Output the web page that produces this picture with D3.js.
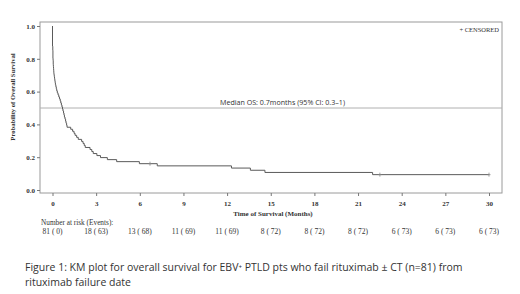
<!DOCTYPE html>
<html><head><meta charset="utf-8">
<script src="https://cdn.jsdelivr.net/npm/d3@7"></script>
<style>body{margin:0;background:#fff}svg{display:block}</style>
</head><body>
<script>
// ---- data ----
const eventTimes = [0,0,0,0,0,0,0,0,0,0,0.02,0.02,0.03,0.03,0.03,0.03,
  0.04,0.05,0.05,0.06,0.07,0.08,0.09,0.10,
  0.12,0.14,0.16,0.18,0.20,0.23,0.26,0.29,
  0.33,0.38,0.43,0.48,
  0.53,0.57,0.61,0.65,0.69,
  0.72,0.76,0.79,0.82,0.86,
  0.90,0.93,0.97,
  1.00,1.25,1.38,1.48,1.55,1.66,1.77,2.00,2.10,2.18,2.25,2.58,2.70,2.80,
  3.05,3.30,3.77,4.41,5.97,7.2,12.3,13.6,14.6,22.0];
const censorTimes = [6.7,22.5,30,30,30,30,30,30];
const riskTimes = [0,3,6,9,12,15,18,21,24,27,30];
const atRisk =    [81,18,13,11,11,8,8,8,6,6,6];
const riskEvents =[0,63,68,69,69,72,72,72,73,73,73];
const yTicks = [0,0.2,0.4,0.6,0.8,1.0];
const medianLabel = "Median OS: 0.7months (95% CI: 0.3\u20131)";
const medianValue = 0.5;
const captionLines = ["Figure 1: KM plot for overall survival for EBV\u207A PTLD pts who fail rituximab \u00B1 CT (n=81) from",
  "rituximab failure date"];

const W=520,H=294;
const svg=d3.select("body").append("svg").attr("width",W).attr("height",H);
const x=d3.scaleLinear().domain([0,30]).range([52.5,489]);
const y=d3.scaleLinear().domain([0,1]).range([190,26]);
const frame={l:40,t:22,r:502,b:193};
const serif="'Liberation Serif','DejaVu Serif',serif";
const sans="'Open Sans','Liberation Sans',sans-serif";

// KM estimate
const recs=eventTimes.map(t=>({t,e:1})).concat(censorTimes.map(t=>({t,e:0})));
const times=Array.from(new Set(recs.map(r=>r.t))).sort((a,b)=>a-b);
let n=recs.length,S=1;const pts=[[0,1]];const cens=[];
for(const t of times){
  const d=recs.filter(r=>r.t===t&&r.e===1).length;
  const c=recs.filter(r=>r.t===t&&r.e===0).length;
  if(d>0){pts.push([t,S]);S=S*(n-d)/n;pts.push([t,S]);}
  if(c>0)cens.push([t,S]);
  n-=d+c;
}
pts.push([30,S]);

// frame
svg.append("rect").attr("x",frame.l).attr("y",frame.t).attr("width",frame.r-frame.l).attr("height",frame.b-frame.t)
  .attr("fill","none").attr("stroke","#9a9a9a").attr("stroke-width",1);

// median line
svg.append("line").attr("x1",frame.l).attr("x2",frame.r).attr("y1",y(medianValue)).attr("y2",y(medianValue))
  .attr("stroke","#b0b0b0").attr("stroke-width",1);
const med=svg.append("text").attr("x",220).attr("y",y(medianValue)-3.5).attr("font-family",sans).attr("font-size",7.6)
  .attr("fill","#333").text(medianLabel);
med.attr("font-size",7.6*125/med.node().getComputedTextLength());

// axes
const ya=svg.append("g").attr("transform",`translate(${frame.l},0)`)
  .call(d3.axisLeft(y).tickValues(yTicks).tickFormat(d3.format(".1f")).tickSize(3).tickPadding(2));
const xa=svg.append("g").attr("transform",`translate(0,${frame.b})`)
  .call(d3.axisBottom(x).tickValues(riskTimes).tickFormat(d3.format("d")).tickSize(3).tickPadding(5));
[ya,xa].forEach(g=>{g.select(".domain").remove();g.selectAll("line").attr("stroke","#777");
  g.selectAll("text").attr("font-family",serif).attr("font-size",7).attr("font-weight","bold").attr("fill","#333");});

// curve
svg.append("path").datum(pts).attr("fill","none").attr("stroke","#5a5a5a").attr("stroke-width",1)
  .attr("d",d3.line().x(d=>x(d[0])).y(d=>y(d[1])));
svg.selectAll(".cens").data(cens).join("path").attr("class","cens")
  .attr("d",d=>`M${x(d[0])-1.5},${y(d[1])}h3M${x(d[0])},${y(d[1])-2}v4`)
  .attr("stroke","#888").attr("stroke-width",0.8);

// legend
svg.append("text").attr("x",499).attr("y",32).attr("text-anchor","end").attr("font-family",serif)
  .attr("font-size",6.5).attr("fill","#333").text("+ CENSORED");

// axis titles
svg.append("text").attr("transform","translate(15,97) rotate(-90)").attr("text-anchor","middle")
  .attr("font-family",serif).attr("font-size",6.6).attr("font-weight","bold").attr("fill","#333")
  .text("Probability of Overall Survival");
svg.append("text").attr("x",273).attr("y",216).attr("text-anchor","middle")
  .attr("font-family",serif).attr("font-size",7).attr("font-weight","bold").attr("fill","#333")
  .text("Time of Survival (Months)");

// risk table
svg.append("text").attr("x",41).attr("y",225).attr("font-family",serif).attr("font-size",7.3).attr("fill","#333")
  .text("Number at risk (Events):");
svg.selectAll(".risk").data(riskTimes).join("text").attr("class","risk")
  .attr("x",d=>x(d)).attr("y",233.5).attr("text-anchor","middle").attr("font-family",serif)
  .attr("font-size",7.5).attr("fill","#333")
  .text((d,i)=>`${atRisk[i]} ( ${riskEvents[i]})`);

// caption
const cap=svg.selectAll(".cap").data(captionLines).join("text").attr("class","cap")
  .attr("x",25).attr("y",(d,i)=>271+i*14.5).attr("font-family",sans).attr("font-size",9).attr("fill","#333")
  .text(d=>d);
const w0=cap.nodes()[0].getComputedTextLength();
cap.attr("font-size",9*438/w0);
</script>
</body></html>
